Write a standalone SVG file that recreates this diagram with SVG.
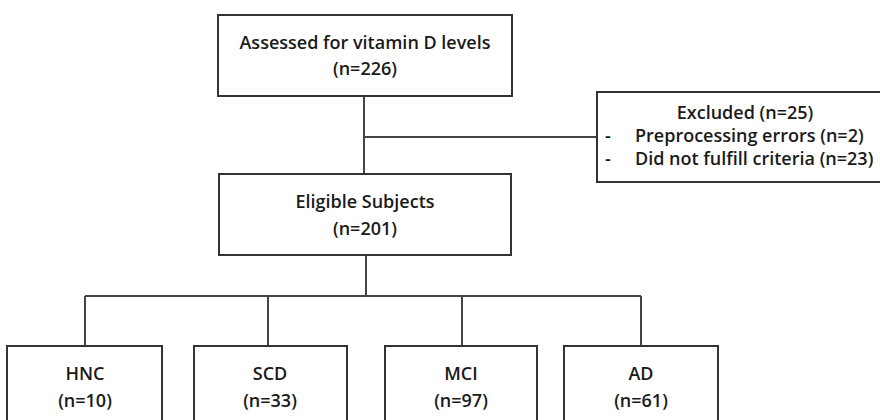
<svg xmlns="http://www.w3.org/2000/svg" width="880" height="420" viewBox="0 0 880 420">
<style>
.box{fill:#fff;stroke:#333;stroke-width:2}
.ln{fill:none;stroke:#444;stroke-width:2}
text{font-family:"Open Sans","Liberation Sans",sans-serif;font-size:18px;font-weight:600;fill:#1a1a1a}
.c{text-anchor:middle}
</style>
<rect width="880" height="420" fill="#fff"/>
<g id="connectors">
<path class="ln" d="M364,96 V174 M364,137 H597 M366,255 V296 M85,296 H641 M85,296 V346 M268,296 V346 M462,296 V346 M641,296 V346"/>
</g>
<g id="assessed">
<rect class="box" x="218" y="15" width="294" height="81"/>
<text class="c" x="365" y="49">Assessed for vitamin D levels</text>
<text class="c" x="365" y="75">(n=226)</text>
</g>
<g id="excluded">
<rect class="box" x="597" y="92" width="300" height="90"/>
<text class="c" x="745" y="119">Excluded (n=25)</text>
<text x="605" y="142">-</text>
<text x="635" y="142">Preprocessing errors (n=2)</text>
<text x="605" y="165">-</text>
<text x="635" y="165">Did not fulfill criteria (n=23)</text>
</g>
<g id="eligible">
<rect class="box" x="219" y="174" width="292" height="81"/>
<text class="c" x="365" y="208">Eligible Subjects</text>
<text class="c" x="365" y="235">(n=201)</text>
</g>
<g id="hnc">
<rect class="box" x="7" y="346" width="155" height="90"/>
<text class="c" x="85" y="380">HNC</text>
<text class="c" x="85" y="407">(n=10)</text>
</g>
<g id="scd">
<rect class="box" x="194" y="346" width="153" height="90"/>
<text class="c" x="270" y="380">SCD</text>
<text class="c" x="270" y="407">(n=33)</text>
</g>
<g id="mci">
<rect class="box" x="385" y="346" width="152" height="90"/>
<text class="c" x="461" y="380">MCI</text>
<text class="c" x="461" y="407">(n=97)</text>
</g>
<g id="ad">
<rect class="box" x="564" y="346" width="154" height="90"/>
<text class="c" x="641" y="380">AD</text>
<text class="c" x="641" y="407">(n=61)</text>
</g>
</svg>
